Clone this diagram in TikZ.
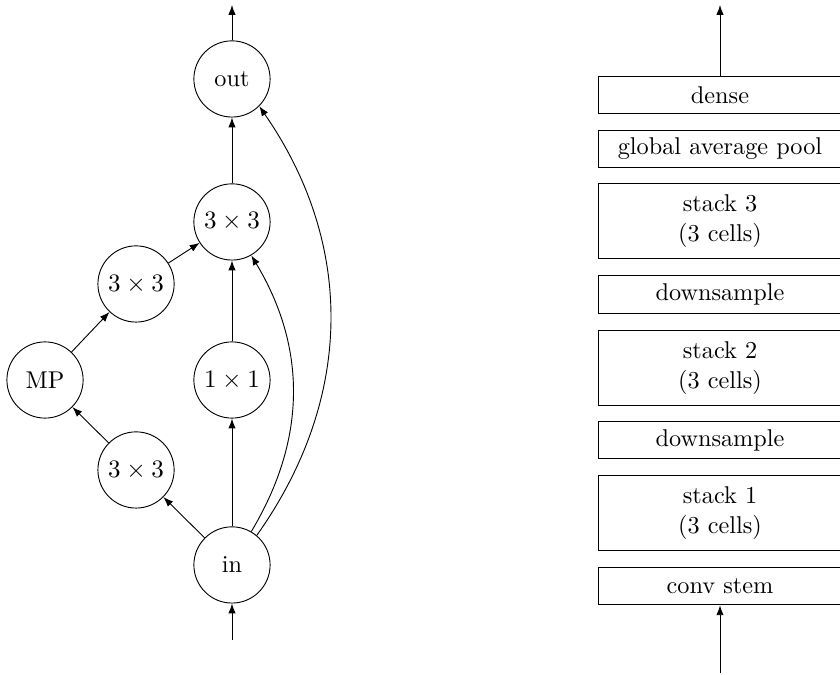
\documentclass[tikz,border=0pt]{standalone}
\usetikzlibrary{arrows.meta}

\begin{document}
\begin{tikzpicture}
[->,>={Latex[length=4.3pt,width=3.2pt]},%
  every node/.style={font=\fontsize{10.6pt}{12.8pt}\selectfont},%
  op/.style={shape=circle,draw,inner sep=0pt,minimum size=1.17cm},%
  layer/.style={shape=rectangle,draw,inner sep=0pt,minimum width=3.72cm,minimum height=0.58cm,align=center},%
  tall/.style={layer,minimum height=1.14cm}]
\useasboundingbox (0,0) rectangle (12.894,10.361);
%% cell
\node[op] (out) at (3.561,9.149) {out};
\node[op] (c3a) at (3.561,6.954) {$3\times 3$};
\node[op] (c3b) at (2.088,6.002) {$3\times 3$};
\node[op] (mp) at (0.691,4.528) {MP};
\node[op] (c1) at (3.561,4.528) {$1\times 1$};
\node[op] (c3c) at (2.088,3.147) {$3\times 3$};
\node[op] (in) at (3.561,1.689) {in};
\coordinate (cellTop) at (3.561,10.285);
\coordinate (cellBot) at (3.561,0.537);
%%
\path
\foreach \startNode/\endNode in {cellBot/in, in/c3c, c3c/mp, mp/c3b, c3b/c3a, in/c1, c1/c3a, c3a/out, out/cellTop}
{
  (\startNode) edge (\endNode)
};
\draw (in.60) to[bend right=31] (c3a.-60);
\draw (in.50) to[bend right=35] (out.-45);
%% network
\node[layer] (dense) at (11.052,8.903) {dense};
\node[layer] (gap) at (11.052,8.074) {global average pool};
\node[tall] (s3) at (11.052,6.969) {stack 3\\(3 cells)};
\node[layer] (ds2) at (11.052,5.841) {downsample};
\node[tall] (s2) at (11.052,4.712) {stack 2\\(3 cells)};
\node[layer] (ds1) at (11.052,3.607) {downsample};
\node[tall] (s1) at (11.052,2.487) {stack 1\\(3 cells)};
\node[layer] (stem) at (11.052,1.366) {conv stem};
\coordinate (netTop) at (11.052,10.285);
\coordinate (netBot) at (11.052,0.031);
\draw (netBot) -- (stem);
\draw (dense) -- (netTop);
\end{tikzpicture}
\end{document}
